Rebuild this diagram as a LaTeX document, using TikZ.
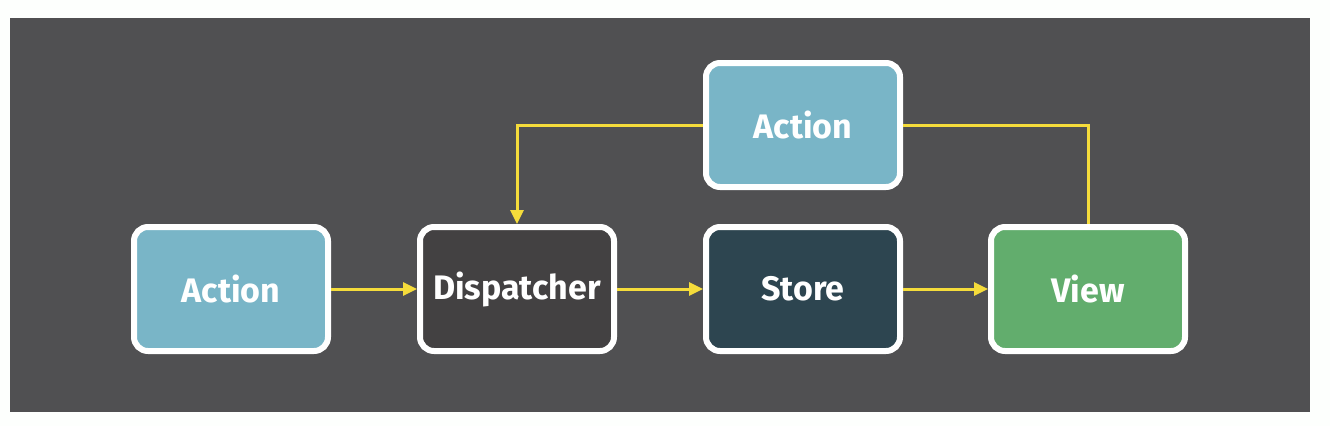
\documentclass[tikz,border=0pt]{standalone}
\usepackage{fontspec}
\setmainfont{Fira Sans}
\usetikzlibrary{arrows.meta}
\definecolor{pagebg}{HTML}{FDFFFD}
\definecolor{panel}{HTML}{505052}
\definecolor{actfill}{HTML}{79B5C7}
\definecolor{dispfill}{HTML}{434142}
\definecolor{storefill}{HTML}{2D4550}
\definecolor{viewfill}{HTML}{62AD6D}
\definecolor{flow}{HTML}{F5DC3B}
\tikzset{
  box/.style={draw=white, line width=6pt, rounded corners=14pt,
    minimum width=194pt, minimum height=124pt, outer sep=3pt,
    text=white, font=\fontsize{34}{40}\selectfont\bfseries},
  flowline/.style={draw=flow, line width=3pt},
  flowarrow/.style={flowline, -{Triangle[length=14pt,width=13pt]}}
}
\begin{document}
\begin{tikzpicture}[x=1pt,y=-1pt]
\fill[pagebg] (0,0) rectangle (1330,426);
\useasboundingbox (0,0) rectangle (1330,426);
\fill[panel] (10,18) rectangle (1310,412);
\node[box, fill=actfill]   (a1) at (231,289) {Action};
\node[box, fill=dispfill]  (d)  at (517,289) {Dispatcher};
\node[box, fill=storefill] (s)  at (803,289) {Store};
\node[box, fill=viewfill]  (v)  at (1088,289) {View};
\node[box, fill=actfill]   (a2) at (803,125) {Action};
\draw[flowarrow] (a1) -- (d);
\draw[flowarrow] (d) -- (s);
\draw[flowarrow] (s) -- (v);
\draw[flowline] (v.north) |- (a2.east);
\draw[flowarrow] (a2.west) -| (d.north);
\end{tikzpicture}
\end{document}
